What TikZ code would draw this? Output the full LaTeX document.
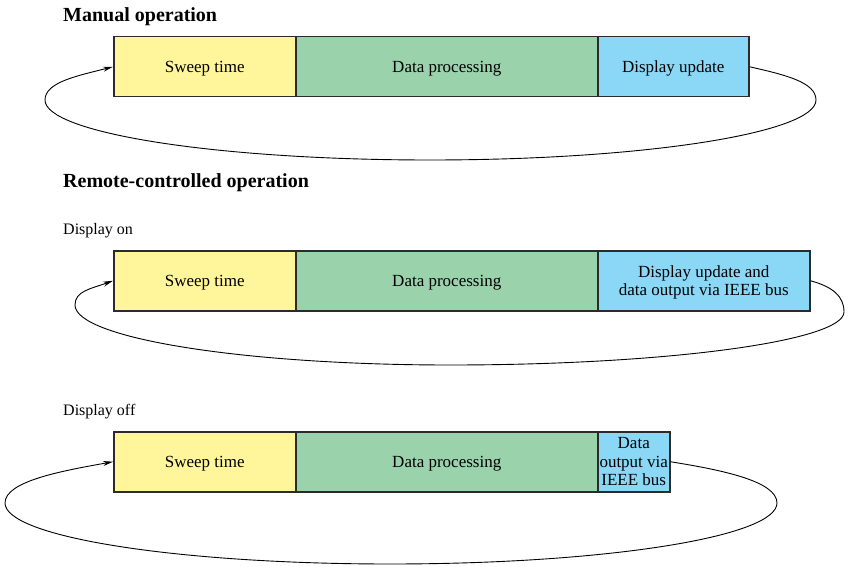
\documentclass[tikz,border=0pt]{standalone}
\usepackage{fontspec}
\setmainfont{Liberation Serif}
\usetikzlibrary{arrows.meta}
\definecolor{cyel}{HTML}{FFF59B}
\definecolor{cgrn}{HTML}{9AD2AC}
\definecolor{cblu}{HTML}{8BD7F6}
\definecolor{cbrd}{HTML}{2B2B2B}
\tikzset{
  box/.style={draw=cbrd, line width=1.5pt, rectangle, anchor=north west, inner sep=0pt,
    minimum height=60pt, align=center, text depth=0pt, font=\fontsize{17}{18.5}\selectfont},
  sweepbox/.style={box, fill=cyel, minimum width=182pt},
  procbox/.style={box, fill=cgrn, minimum width=302pt},
  dispbox/.style={box, fill=cblu},
  title/.style={anchor=base west, inner sep=0pt, font=\fontsize{20}{24}\selectfont\bfseries},
  sub/.style={anchor=base west, inner sep=0pt, font=\fontsize{16}{19}\selectfont},
  loopline/.style={draw=black, line width=0.9pt, -{Stealth[length=10pt,width=5pt]}}
}
\begin{document}
\begin{tikzpicture}[x=1pt,y=-1pt]
\useasboundingbox (0,0) rectangle (849,567);
% titles
\node[title] (t1) at (63,22) {Manual operation};
\node[title] (t2) at (63,187) {Remote-controlled operation};
\node[sub] (on) at (63,234) {Display on};
\node[sub] (off) at (63,415) {Display off};
% row 1
\node[sweepbox] (s1) at (113,36) {Sweep time};
\node[procbox] (p1) at (295,36) {Data processing};
\node[dispbox, minimum width=151pt] (d1) at (597,36) {Display update};
% row 2
\node[sweepbox] (s2) at (113,250) {Sweep time};
\node[procbox] (p2) at (295,250) {Data processing};
\node[dispbox, minimum width=212pt] (d2) at (597,250) {Display update and\\data output via IEEE bus};
% row 3
\node[sweepbox] (s3) at (113,431) {Sweep time};
\node[procbox] (p3) at (295,431) {Data processing};
\node[dispbox, minimum width=72pt] (d3) at (597,431) {Data\\output via\\IEEE bus};
% loop coordinates
\coordinate (r1) at (816,100);
\coordinate (b1) at (430,160);
\coordinate (l1) at (45,100);
\coordinate (r2) at (844,312);
\coordinate (b2) at (450,365);
\coordinate (l2) at (75,305);
\coordinate (r3) at (777,503);
\coordinate (b3) at (390,564);
\coordinate (l3) at (5,503);
% loops
\draw[loopline] (d1.east) .. controls +(35,8) and +(0,-18) .. (r1)
  .. controls +(0,33) and +(213,0) .. (b1)
  .. controls +(-213,0) and +(0,33) .. (l1)
  .. controls +(0,-18) and +(-35,9) .. (s1.west);
\draw[loopline] (d2.east) .. controls +(22,6) and +(0,-16) .. (r2)
  .. controls +(0,29) and +(217,0) .. (b2)
  .. controls +(-207,0) and +(0,33) .. (l2)
  .. controls +(0,-14) and +(-22,8) .. (s2.west);
\draw[loopline] (d3.east) .. controls +(50,8) and +(0,-22) .. (r3)
  .. controls +(0,34) and +(214,0) .. (b3)
  .. controls +(-212,0) and +(0,34) .. (l3)
  .. controls +(0,-22) and +(-50,9) .. (s3.west);
\end{tikzpicture}
\end{document}
